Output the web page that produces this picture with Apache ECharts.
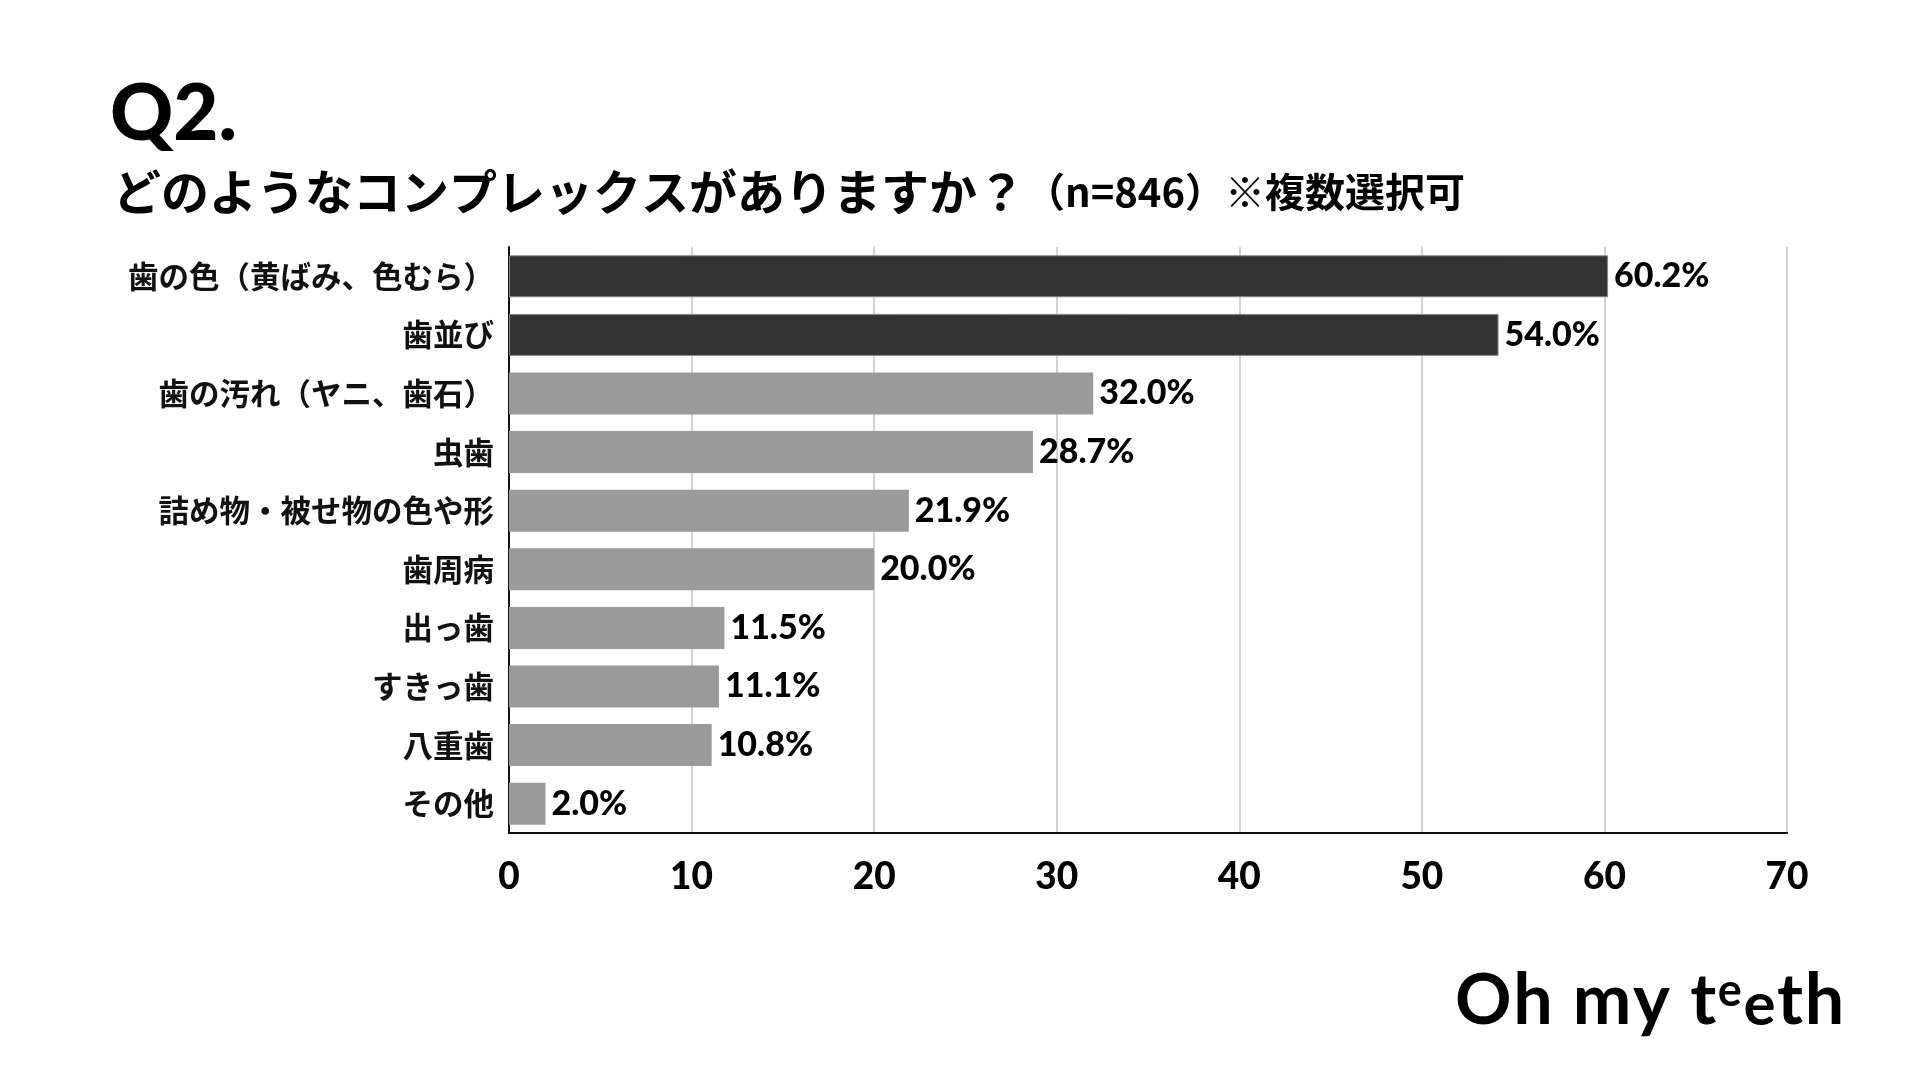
<!DOCTYPE html>
<html>
<head>
<meta charset="utf-8">
<script src="https://cdn.jsdelivr.net/npm/echarts@6/dist/echarts.min.js"></script>
<style>
html,body{margin:0;padding:0;background:#fff;}
#chart{width:1920px;height:1080px;}
</style>
</head>
<body>
<div id="chart"></div>
<script>
var categories = ['歯の色（黄ばみ、色むら）','歯並び','歯の汚れ（ヤニ、歯石）','虫歯','詰め物・被せ物の色や形','歯周病','出っ歯','すきっ歯','八重歯','その他'];
// bar lengths as drawn in the picture
var barValues = [60.2, 54.2, 32.0, 28.7, 21.9, 20.0, 11.8, 11.5, 11.1, 2.0];
// value labels as printed in the picture
var labelTexts = ['60.2%', '54.0%', '32.0%', '28.7%', '21.9%', '20.0%', '11.5%', '11.1%', '10.8%', '2.0%'];
var highlighted = [true, true, false, false, false, false, false, false, false, false];
var xTicks = [0, 10, 20, 30, 40, 50, 60, 70];

var latinFont = 'Lato, "Noto Sans", sans-serif';
var jpFont = '"Noto Sans CJK JP", sans-serif';

var chart = echarts.init(document.getElementById('chart'), null, {renderer:'canvas'});

var ctx = document.createElement('canvas').getContext('2d');
function tw(text, size, weight){ ctx.font = weight + ' ' + size + 'px Lato'; return ctx.measureText(text).width; }

// logo glyphs: [char, fontSize, top]
var logoGlyphs = [['O',70,966],['h',70,966],[' ',70,966],['m',70,966],['y',70,966],[' ',70,966],['t',70,966],['e',45,969],['e',60,976],['t',70,966],['h',70,966]];
var logoGraphics = [];
var lx = 1455, spacing = 1.6;
logoGlyphs.forEach(function(g){
  if (g[0] !== ' ') {
    logoGraphics.push({type:'text', x:lx, y:g[2], style:{text:g[0], fontFamily:latinFont, fontWeight:'bold', fontSize:g[1], fill:'#000', textVerticalAlign:'top'}});
  }
  lx += tw(g[0], g[1], 'bold') + spacing;
});

var dataItems = barValues.map(function(v, i){
  return {
    value: v,
    itemStyle: highlighted[i] ? {color:'#333333', borderColor:'#8a8a8a', borderWidth:1} : {color:'#9a9a9a'}
  };
});

chart.setOption({
  backgroundColor:'#ffffff',
  animation:false,
  grid:{left:509, top:247, width:1278, height:586, containLabel:false},
  xAxis:{
    type:'value', min:0, max:70, interval:10,
    axisLine:{show:true, lineStyle:{color:'#111', width:2}},
    axisTick:{show:false},
    splitLine:{show:true, lineStyle:{color:'#c4c4c4', width:1.5}},
    axisLabel:{
      color:'#000', fontFamily:latinFont, fontWeight:900, fontSize:37, margin:26,
      formatter:function(v){ return xTicks.indexOf(v) >= 0 ? String(v) : ''; }
    }
  },
  yAxis:{
    type:'category', data:categories, inverse:true,
    axisLine:{show:true, lineStyle:{color:'#111', width:2}},
    axisTick:{show:false},
    axisLabel:{color:'#111', fontFamily:jpFont, fontWeight:'bold', fontSize:30.5, margin:15}
  },
  series:[{
    type:'bar', data:dataItems, barWidth:42,
    label:{
      show:true, position:'right', distance:6,
      color:'#000', fontFamily:latinFont, fontWeight:900, fontSize:34,
      formatter:function(p){ return labelTexts[p.dataIndex]; }
    }
  }],
  graphic:[
    {type:'text', left:110, top:76, style:{text:'Q2.', fontFamily:latinFont, fontWeight:900, fontSize:78, fill:'#000'}},
    {type:'text', left:113, top:168, style:{
      text:'{a|どのようなコンプレックスがありますか？}{b|（n=846）※複数選択可}',
      rich:{
        a:{fontFamily:jpFont, fontWeight:'bold', fontSize:48, fill:'#000', verticalAlign:'middle'},
        b:{fontFamily:jpFont, fontWeight:'bold', fontSize:40, fill:'#000', verticalAlign:'middle'}
      }
    }}
  ].concat(logoGraphics)
});
</script>
</body>
</html>
